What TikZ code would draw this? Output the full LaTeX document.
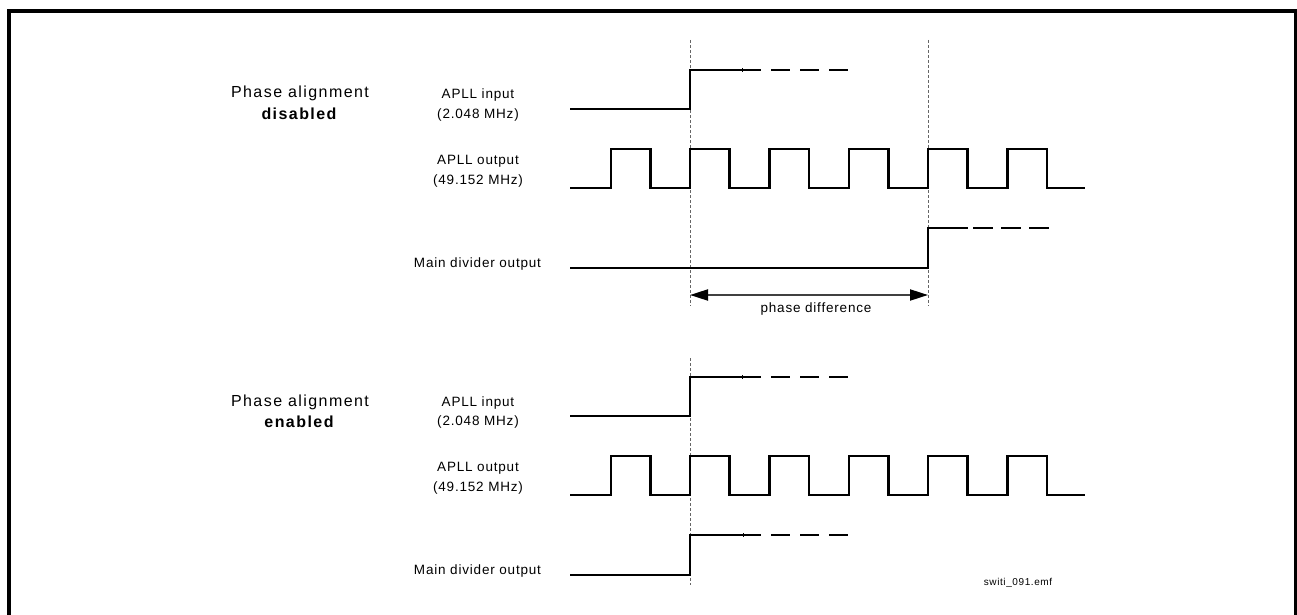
\documentclass[tikz,border=0pt]{standalone}
\usepackage{fontspec}
\setmainfont{Liberation Sans}
\newfontfamily\trk[LetterSpace=6.0]{Liberation Sans}
\newfontfamily\ttl[LetterSpace=9.0]{Liberation Sans}
\usetikzlibrary{arrows.meta}
\begin{document}
\begin{tikzpicture}[x=1pt,y=-1pt,
  wave/.style={line width=2.4pt, line join=miter, black},
  guide/.style={line width=0.9pt, black!60, dash pattern=on 3pt off 2pt},
  lbl/.style={font=\trk\fontsize{13.5}{16}\selectfont, anchor=base, inner sep=0pt},
  ttlbl/.style={font=\ttl\fontsize{16}{18}\selectfont, anchor=base, inner sep=0pt},
  small/.style={font=\trk\fontsize{10}{12}\selectfont, anchor=base, inner sep=0pt},
  meas/.style={line width=2pt, black!75, {Triangle[length=18pt,width=11pt,black]}-{Triangle[length=18pt,width=11pt,black]}},
  tick/.style={line width=0.8pt, black}]
\useasboundingbox (0,0) rectangle (1297,615);
% frame (open at bottom)
\draw[line width=4pt] (8.8,620) -- (8.8,11.3) -- (1295.5,11.3) -- (1295.5,620);

% ---------- top panel: disabled ----------
\node[ttlbl] (t1) at (300,98) {Phase alignment};
\node[ttlbl] (t2) at (299,119.3) {\bfseries disabled};
\node[lbl] (ia1) at (478,98.3) {APLL input};
\node[lbl] (ia2) at (478,118.3) {(2.048 MHz)};
\node[lbl] (oa1) at (478,164.3) {APLL output};
\node[lbl] (oa2) at (478,184) {(49.152 MHz)};
\node[lbl] (da1) at (477.5,267.5) {Main divider output};

% guides
\coordinate (g1t) at (690,40);  \coordinate (g1b) at (690,306);
\coordinate (g2t) at (928,40);  \coordinate (g2b) at (928,306);
\draw[guide] (g1t) -- (g1b);
\draw[guide] (g2t) -- (g2b);

% APLL input
\draw[wave] (570,109) -- (690,109) -- (690,70) -- (761,70);
\draw[wave] (771,70) -- (790,70) (800,70) -- (819,70) (829,70) -- (848,70);
\draw[tick] (742,68) -- (742,72);

% APLL output clock
\draw[wave] (570,188) foreach \r in {610.7,690,769.3,848.7,928,1007.3} { -- (\r,188) -- (\r,149) -- (\r+39.67,149) -- (\r+39.67,188) } -- (1085,188);

% Main divider output
\draw[wave] (570,268) -- (928,268) -- (928,228) -- (968,228);
\draw[wave] (973,228) -- (993,228) (1001,228) -- (1021,228) (1029,228) -- (1049,228);

% phase difference
\coordinate (pa) at (690,295);
\coordinate (pb) at (928,295);
\draw[meas] (pa) -- (pb);
\node[lbl] (pd) at (816,312.3) {phase difference};

% ---------- bottom panel: enabled ----------
\node[ttlbl] (b1) at (300,406) {Phase alignment};
\node[ttlbl] (b2) at (299,427.5) {\bfseries enabled};
\node[lbl] (ib1) at (478,406) {APLL input};
\node[lbl] (ib2) at (478,425.5) {(2.048 MHz)};
\node[lbl] (ob1) at (478,471.5) {APLL output};
\node[lbl] (ob2) at (478,491) {(49.152 MHz)};
\node[lbl] (db1) at (477.5,574.5) {Main divider output};

\coordinate (g3t) at (690,358); \coordinate (g3b) at (690,585);
\draw[guide] (g3t) -- (g3b);

% APLL input
\draw[wave] (570,416) -- (690,416) -- (690,377) -- (761,377);
\draw[wave] (771,377) -- (790,377) (800,377) -- (819,377) (829,377) -- (848,377);
\draw[tick] (742,375) -- (742,379);

% APLL output clock
\draw[wave] (570,495) foreach \r in {610.7,690,769.3,848.7,928,1007.3} { -- (\r,495) -- (\r,456) -- (\r+39.67,456) -- (\r+39.67,495) } -- (1085,495);

% Main divider output
\draw[wave] (570,575) -- (690,575) -- (690,535) -- (761,535);
\draw[wave] (771,535) -- (790,535) (800,535) -- (819,535) (829,535) -- (848,535);
\draw[tick] (743,533) -- (743,537);

\node[small] (fn) at (1018,585.5) {switi\_091.emf};
\end{tikzpicture}
\end{document}
